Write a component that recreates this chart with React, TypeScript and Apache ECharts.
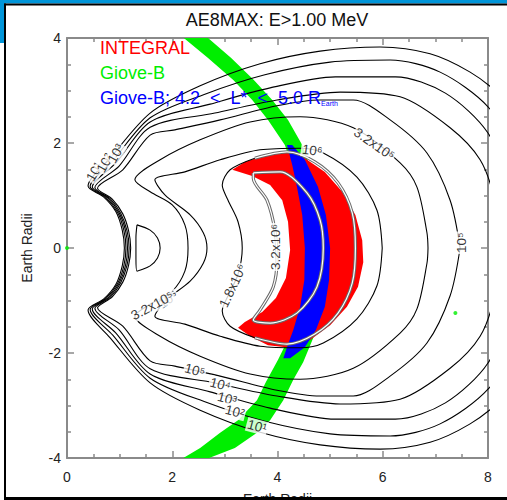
import React, { useEffect, useRef } from 'react';
import * as echarts from 'echarts';

const FONT = '"Liberation Sans", Arial, Helvetica, sans-serif';

const titleText = 'AE8MAX: E>1.00 MeV';
const axisName = 'Earth Radii';
const X_MIN = 0, X_MAX = 8, X_STEP = 2;
const Y_MIN = -4, Y_MAX = 4, Y_STEP = 2;

// Giove-B orbit band edges (Earth radii)
const greenLeft = [[2.22,4.0],[2.68,3.62],[3.16,3.20],[3.52,2.82],[3.82,2.44],[4.14,1.96],[4.30,1.49],[4.43,0.91],[4.52,0.34],[4.52,0],[4.49,-0.51],[4.41,-1.09],[4.24,-1.66],[4.01,-2.13],[3.78,-2.55],[3.61,-2.90],[3.25,-3.28],[2.91,-3.52],[2.53,-3.81],[2.21,-4.0]];
const greenRight = [[2.68,4.0],[3.12,3.62],[3.55,3.20],[3.90,2.82],[4.20,2.44],[4.47,1.96],[4.64,1.49],[4.81,0.91],[4.96,0.34],[5.02,0],[5.00,-0.42],[4.90,-1.09],[4.70,-1.66],[4.49,-2.17],[4.30,-2.51],[4.11,-2.90],[3.86,-3.28],[3.61,-3.52],[3.19,-3.81],[2.70,-4.0]];
const greenDots = [[0, 0], [7.38, -1.24]];

// INTEGRAL crescent
const redOuter = [[3.14,1.49],[3.38,1.64],[3.71,1.75],[4.14,1.83],[4.52,1.71],[4.90,1.45],[5.23,1.07],[5.48,0.63],[5.61,0.15],[5.63,-0.27],[5.53,-0.74],[5.32,-1.12],[5.00,-1.47],[4.62,-1.75],[4.24,-1.90],[3.82,-1.85],[3.48,-1.68],[3.25,-1.52]];
const redInner = [[3.38,-1.41],[3.71,-1.22],[3.97,-0.95],[4.16,-0.57],[4.24,-0.04],[4.20,0.50],[4.09,0.91],[3.86,1.20],[3.52,1.37]];

// Giove-B 4.2 < L* < 5.0
const blueLeft = [[4.18,1.96],[4.28,1.58],[4.37,1.16],[4.47,0.63],[4.52,0],[4.51,-0.61],[4.43,-1.12],[4.30,-1.56],[4.18,-1.89],[4.11,-2.10]];
const blueRight = [[4.28,1.96],[4.52,1.68],[4.77,1.16],[4.92,0.63],[5.00,0],[4.98,-0.61],[4.90,-1.12],[4.73,-1.56],[4.52,-1.89],[4.24,-2.10]];

// flux contours
const c1e1 = [[9.09,0],[8.80,2.25],[8.23,2.91],[7.66,3.35],[6.90,3.70],[5.95,3.83],[4.81,3.75],[3.67,3.51],[2.53,3.09],[1.58,2.57],[0.82,1.71],[0.40,1.18],[0.70,0.97],[0.93,0.69],[1.05,0.34],[1.09,0],[1.05,-0.34],[0.93,-0.69],[0.70,-0.97],[0.40,-1.18],[0.82,-1.71],[1.58,-2.57],[2.53,-3.09],[3.67,-3.51],[4.81,-3.75],[5.95,-3.83],[6.90,-3.70],[7.66,-3.35],[8.23,-2.91],[8.80,-2.25],[9.09,0]];
const c1e2 = [[8.80,0],[8.61,1.68],[8.0,2.69],[7.09,3.35],[6.14,3.58],[5.00,3.54],[3.76,3.30],[2.62,2.93],[1.58,2.48],[0.87,1.66],[0.44,1.17],[0.74,0.96],[0.96,0.68],[1.08,0.34],[1.12,0],[1.08,-0.34],[0.96,-0.68],[0.74,-0.96],[0.44,-1.17],[0.87,-1.66],[1.58,-2.48],[2.62,-2.93],[3.76,-3.30],[5.00,-3.54],[6.14,-3.58],[7.09,-3.35],[8.0,-2.69],[8.61,-1.68],[8.80,0]];
const c1e3 = [[8.52,0],[8.42,1.10],[8.0,2.19],[7.19,2.95],[6.24,3.26],[5.10,3.26],[3.86,3.05],[2.72,2.74],[1.58,2.40],[0.93,1.62],[0.48,1.16],[0.78,0.95],[0.99,0.67],[1.11,0.34],[1.15,0],[1.11,-0.34],[0.99,-0.67],[0.78,-0.95],[0.48,-1.16],[0.93,-1.62],[1.58,-2.40],[2.72,-2.74],[3.86,-3.05],[5.10,-3.26],[6.24,-3.26],[7.19,-2.95],[8.0,-2.19],[8.42,-1.10],[8.52,0]];
const c1e4 = [[8.19,0],[8.12,0.91],[7.85,1.68],[7.28,2.29],[6.33,2.88],[5.19,2.97],[3.99,2.82],[2.81,2.57],[1.58,2.30],[0.99,1.56],[0.53,1.15],[0.82,0.94],[1.02,0.66],[1.14,0.33],[1.18,0],[1.14,-0.33],[1.02,-0.66],[0.82,-0.94],[0.53,-1.15],[0.99,-1.56],[1.58,-2.30],[2.81,-2.57],[3.99,-2.82],[5.19,-2.97],[6.33,-2.88],[7.28,-2.29],[7.85,-1.68],[8.12,-0.91],[8.19,0]];
const c1e5 = [[7.47,0],[7.28,0.91],[6.84,1.81],[6.14,2.44],[5.44,2.82],[4.81,2.82],[3.99,2.71],[2.91,2.44],[2.05,2.25],[1.58,2.15],[1.06,1.49],[0.58,1.14],[0.86,0.93],[1.06,0.65],[1.17,0.33],[1.21,0],[1.17,-0.33],[1.06,-0.65],[0.86,-0.93],[0.58,-1.14],[1.06,-1.49],[1.58,-2.15],[2.05,-2.25],[2.91,-2.44],[3.99,-2.71],[4.81,-2.82],[5.44,-2.82],[6.14,-2.44],[6.84,-1.81],[7.28,-0.91],[7.47,0]];
const c32e5 = [[6.86,0],[6.84,0.29],[6.65,1.16],[6.33,1.62],[5.44,2.29],[4.43,2.50],[3.48,2.40],[2.53,2.06],[1.77,1.68],[1.29,1.30],[1.58,1.07],[2.00,0.82],[2.24,0.44],[2.30,0],[2.24,-0.44],[2.00,-0.82],[1.58,-1.07],[1.29,-1.30],[1.77,-1.68],[2.53,-2.06],[3.48,-2.40],[4.43,-2.50],[5.44,-2.29],[6.33,-1.62],[6.65,-1.16],[6.84,-0.29],[6.86,0]];
const c1e6 = [[5.99,0],[5.89,0.72],[5.51,1.35],[4.87,1.81],[4.43,1.90],[3.67,1.87],[2.91,1.68],[2.24,1.45],[1.67,1.30],[1.86,1.01],[2.34,0.63],[2.59,0.29],[2.66,0],[2.59,-0.29],[2.34,-0.63],[1.86,-1.01],[1.67,-1.30],[2.24,-1.45],[2.91,-1.68],[3.67,-1.87],[4.43,-1.90],[4.87,-1.81],[5.51,-1.35],[5.89,-0.72],[5.99,0]];
const c18e6Outer = [[3.57,1.71],[4.18,1.83],[4.71,1.64],[5.15,1.24],[5.42,0.67],[5.48,0],[5.42,-0.67],[5.15,-1.24],[4.71,-1.64],[4.18,-1.83],[3.57,-1.71]];
const c18e6Inner = [[3.57,-1.71],[3.10,-1.49],[2.95,-1.20],[3.06,-0.91],[3.25,-0.50],[3.33,0],[3.25,0.50],[3.06,0.91],[2.95,1.20],[3.10,1.49],[3.57,1.71]];
const c32e6 = [[3.54,1.43],[4.05,1.45],[4.56,1.05],[4.81,0.53],[4.87,0],[4.75,-0.74],[4.37,-1.24],[3.86,-1.43],[3.54,-1.37],[3.67,-1.18],[3.92,-0.74],[3.99,-0.23],[3.95,0.34],[3.80,0.91],[3.54,1.33],[3.54,1.43]];
const innerLoop = [[1.33,0.44],[1.58,0.34],[1.72,0.19],[1.77,0],[1.72,-0.19],[1.58,-0.34],[1.33,-0.44],[1.31,-0.2],[1.31,0.2],[1.33,0.44]];

// contour labels: x, y, text, rotation
const contourLabels: [number, number, string, number][] = [
  [7.49, 0.10, '10⁵', 90],
  [5.84, 1.98, '3.2x10⁵', -35],
  [4.66, 1.86, '10⁶', -8],
  [3.97, 0.02, '3.2x10⁶', 90],
  [3.15, -0.72, '1.8x10⁶', 65],
  [1.92, -0.98, '10⁶', 35],
  [1.62, -1.10, '3.2x10⁵', 28],
  [2.43, -2.33, '10⁵', -15],
  [2.91, -2.60, '10⁴', -15],
  [3.04, -2.87, '10³', -15],
  [3.19, -3.12, '10²', -15],
  [3.61, -3.40, '10¹', -15],
  [0.52, 1.45, '10¹', 60],
  [0.72, 1.62, '10²', 60],
  [0.93, 1.80, '10³', 60],
];

const legendItems = [
  { text: 'INTEGRAL', color: '#ff0000', y: 48 },
  { text: 'Giove-B', color: '#00ee00', y: 73 },
  { text: 'Giove-B; 4.2  <  L*  <  5.0 R{e|Earth}', color: '#0000ff', y: 98 },
];

const polygonSeries = (pts: number[][], color: string, z: number) => ({
  type: 'custom',
  coordinateSystem: 'cartesian2d',
  z,
  silent: true,
  data: [[0, 0]],
  renderItem: (_p: any, api: any) => ({
    type: 'polygon',
    shape: { points: pts.map((p) => api.coord(p)) },
    style: { fill: color },
  }),
});

const lineSeries = (pts: number[][], color = '#000', width = 1.1, z = 4) => ({
  type: 'line',
  data: pts,
  smooth: 0.3,
  symbol: 'none',
  silent: true,
  z,
  lineStyle: { color, width },
});

const axisCommon = {
  type: 'value',
  axisLine: { show: true, onZero: false, lineStyle: { color: '#8a8a8a', width: 2 } },
  axisTick: { show: true, inside: true, length: 7, lineStyle: { color: '#8a8a8a', width: 1.5 } },
  minorTick: { show: true, splitNumber: 4, length: 4, lineStyle: { color: '#8a8a8a', width: 1.5 } },
  splitLine: { show: false },
};

export default function App() {
  const ref = useRef<HTMLDivElement>(null);
  useEffect(() => {
    const chart = echarts.init(ref.current!, null, { renderer: 'svg' });
    const option: any = {
      animation: false,
      backgroundColor: '#fff',
      textStyle: { fontFamily: FONT },
      grid: { left: 67, right: 19, top: 38, bottom: 42, containLabel: false, outerBoundsMode: 'none' },
      xAxis: [
        {
          ...axisCommon, min: X_MIN, max: X_MAX, interval: X_STEP, position: 'bottom',
          axisLabel: { fontSize: 14, color: '#222', margin: 12, fontFamily: FONT },
          name: axisName, nameLocation: 'middle', nameGap: 34, nameMoveOverlap: false,
          nameTextStyle: { fontSize: 14, color: '#222', fontFamily: FONT },
        },
        { ...axisCommon, min: X_MIN, max: X_MAX, interval: X_STEP, position: 'top', axisLabel: { show: false } },
      ],
      yAxis: [
        {
          ...axisCommon, min: Y_MIN, max: Y_MAX, interval: Y_STEP, position: 'left',
          axisLabel: { fontSize: 14, color: '#222', margin: 6, fontFamily: FONT },
          name: axisName, nameLocation: 'middle', nameGap: 33, nameMoveOverlap: false,
          nameTextStyle: { fontSize: 14, color: '#222', fontFamily: FONT },
        },
        { ...axisCommon, min: Y_MIN, max: Y_MAX, interval: Y_STEP, position: 'right', axisLabel: { show: false } },
      ],
      series: [
        polygonSeries([...greenLeft, ...greenRight.slice().reverse()], '#00ee00', 1),
        polygonSeries([...redOuter, ...redInner], '#ff0000', 2),
        polygonSeries([...blueLeft, ...blueRight.slice().reverse()], '#0000ff', 3),
        lineSeries(c1e1),
        lineSeries(c1e2),
        lineSeries(c1e3),
        lineSeries(c1e4),
        lineSeries(c1e5),
        lineSeries(c32e5),
        lineSeries(c1e6),
        lineSeries(c18e6Inner),
        lineSeries(innerLoop),
        lineSeries(c18e6Outer, '#6a6a6a', 3.2),
        lineSeries(c18e6Outer, '#ffffff', 1.2, 5),
        lineSeries(c32e6, '#6a6a6a', 3.2),
        lineSeries(c32e6, '#ffffff', 1.2, 5),
        {
          type: 'scatter', z: 6, silent: true, symbolSize: 4,
          itemStyle: { color: '#00ee00' },
          data: greenDots,
        },
        {
          type: 'scatter', z: 10, silent: true, symbolSize: 1,
          itemStyle: { color: 'rgba(0,0,0,0)' },
          label: {
            show: true, position: 'inside', formatter: '{b}', fontSize: 13.5,
            fontFamily: FONT, color: '#000', backgroundColor: '#fff', padding: [0, 1],
          },
          data: contourLabels.map((l) => ({ value: [l[0], l[1]], name: l[2], label: { rotate: l[3] } })),
        },
      ],
      graphic: [
        { type: 'rect', z: 100, shape: { x: 0, y: 0, width: 507, height: 3.5 }, style: { fill: '#0095d9' } },
        { type: 'rect', z: 100, shape: { x: 0, y: 0, width: 4, height: 43 }, style: { fill: '#0095d9' } },
        { type: 'rect', z: 101, shape: { x: 4, y: 3.5, width: 503, height: 2 }, style: { fill: '#000' } },
        { type: 'rect', z: 101, shape: { x: 4, y: 3.5, width: 2, height: 495.5 }, style: { fill: '#000' } },
        { type: 'rect', z: 101, shape: { x: 4, y: 497, width: 503, height: 3 }, style: { fill: '#000' } },
        {
          type: 'text', z: 100, x: 277, y: 20,
          style: { text: titleText, fontSize: 18, fontFamily: FONT, fill: '#111', align: 'center', verticalAlign: 'middle' },
        },
        ...legendItems.map((it) => ({
          type: 'text', z: 100, x: 100, y: it.y,
          style: {
            text: it.text, fontSize: 18, fontFamily: FONT, fill: it.color, verticalAlign: 'middle',
            rich: { e: { fontSize: 7, fontFamily: FONT, fill: it.color, verticalAlign: 'bottom', padding: [8, 0, 0, 0] } },
          },
        })),
      ],
    };
    chart.setOption(option);
    return () => chart.dispose();
  }, []);
  return (
    <div
      ref={ref}
      style={{ position: 'fixed', left: 0, top: 0, width: 507, height: 500, background: '#fff' }}
    />
  );
}
